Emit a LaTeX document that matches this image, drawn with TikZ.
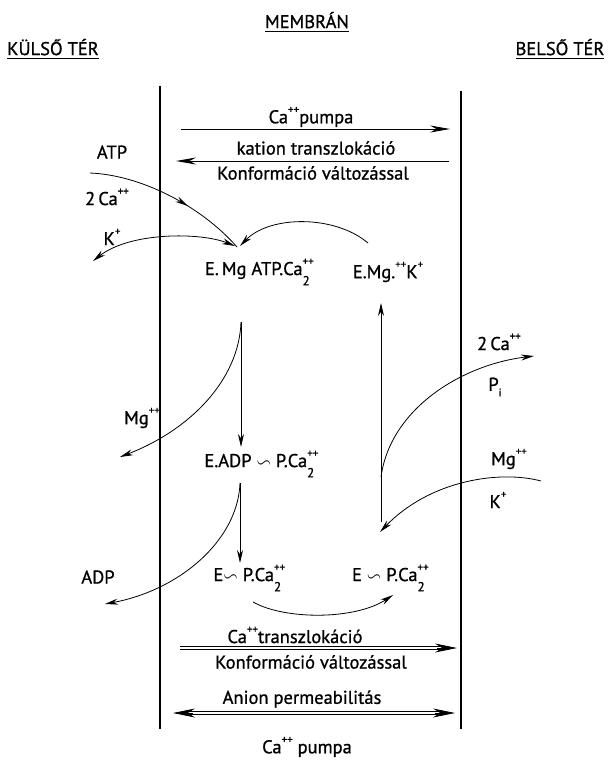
\documentclass[tikz,border=0pt]{standalone}
\usepackage{fontspec}
\usepackage{amssymb}
\setmainfont{PT Sans}[UprightFeatures={FakeBold=0.9}]
\usetikzlibrary{arrows.meta,decorations.markings}

\newcommand{\pp}{\raisebox{0.55em}{\fontsize{11}{11}\selectfont ++}}
\newcommand{\kp}{\raisebox{0.55em}{\fontsize{11}{11}\selectfont +}}
\newcommand{\catwo}{Ca\rlap{\raisebox{0.55em}{\fontsize{11}{11}\selectfont ++}}\raisebox{-0.55em}{\fontsize{13}{13}\selectfont 2}\hphantom{+}}
\newcommand{\wave}{$\backsim$}

\begin{document}
\begin{tikzpicture}[
    x=1pt, y=-1pt,
    lbl/.style={font=\fontsize{18.5}{20}\selectfont, inner sep=1pt},
    title/.style={font=\fontsize{18.5}{20}\selectfont, inner sep=1pt},
    memb/.style={line width=1.6pt},
    flow/.style={line width=0.8pt, -{Stealth[length=13pt,width=6pt]}},
    both flow/.style={line width=0.8pt, {Stealth[length=13pt,width=6pt]}-{Stealth[length=13pt,width=6pt]}},
    mid flow/.style={line width=0.8pt, postaction={decorate}, decoration={markings,
        mark=at position #1 with {\arrow{Stealth[length=13pt,width=6pt]}}}},
    top flow/.style={line width=0.8pt, -{Stealth[length=20pt,width=7pt]}},
    dbl/.style={line width=0.8pt, double distance=2.2pt},
    dbl tip/.style={line width=0.8pt, -{Stealth[length=22pt,width=9pt]}}
]
\useasboundingbox (0,0) rectangle (610,760);

% fejlécek
\node[title] (memtitle) at (307,22) {\underline{MEMBRÁN}};
\node[title] (kulso)    at (53,49)  {\underline{KÜLSŐ TÉR}};
\node[title] (belso)    at (560,49) {\underline{BELSŐ TÉR}};

% a membrán két oldala
\coordinate (ml1) at (160,86);  \coordinate (ml2) at (160,729);
\coordinate (mr1) at (461,91);  \coordinate (mr2) at (461,729);
\draw[memb] (ml1) -- (ml2);
\draw[memb] (mr1) -- (mr2);

% felső nyilak
\node[lbl] (pumpa)  at (311,117) {Ca\pp pumpa};
\node[lbl] (kation) at (316,148) {kation transzlokáció};
\node[lbl] (konf1)  at (313,173) {Konformáció változással};
\coordinate (p1) at (181,129); \coordinate (p2) at (450,129);
\coordinate (k1) at (449,161); \coordinate (k2) at (176,161);
\draw[top flow] (p1) -- (p2);
\draw[top flow, line width=1pt] (k1) -- (k2);

% külső tér ionjai
\node[lbl] (atp)   at (112,152) {ATP};
\node[lbl] (ca2)   at (107,197) {2\,Ca\pp};
\node[lbl] (kout)  at (112,237) {K\kp};
\node[lbl] (mgout) at (142,418) {Mg\pp};
\node[lbl] (adp)   at (98,577)  {ADP};

% belső tér ionjai
\node[lbl] (cain) at (499,342) {2\,Ca\pp};
\node[lbl] (pin)  at (495,387) {P\raisebox{-0.3em}{\fontsize{11}{11}\selectfont i}};
\node[lbl] (mgin) at (509,459) {Mg\pp};
\node[lbl] (kin)  at (498,500) {K\kp};

% enzim állapotok
\node[lbl] (eatp) at (262,272) {E.\,Mg ATP.\catwo};
\node[lbl] (emgk) at (388,272) {E.Mg.\pp K\kp};
\node[lbl] (eadp) at (264,464) {E.ADP \wave{} P.\catwo};
\node[lbl] (ep1)  at (252,578) {E\wave{} P.\catwo};
\node[lbl] (ep2)  at (393,578) {E \wave{} P.\catwo};

% ciklus pontjai
\coordinate (jn)   at (237,247);
\coordinate (atps) at (90,173);
\coordinate (kend) at (93,261);
\coordinate (kst)  at (235,246);
\coordinate (rets) at (368,243);
\coordinate (rete) at (240,246);
\coordinate (d1a) at (241,322);  \coordinate (d1b) at (241,447);
\coordinate (mge) at (120,457);
\coordinate (d2a) at (240,483);  \coordinate (d2b) at (240,563);
\coordinate (adpe) at (105,604);
\coordinate (bc1) at (253,602);  \coordinate (bc2) at (393,595);
\coordinate (up1) at (381,522);  \coordinate (up2) at (381,303);
\coordinate (pis) at (381,477);  \coordinate (pie) at (534,356);
\coordinate (mks) at (541,481);  \coordinate (mke) at (380,532);

% ATP + 2Ca befelé
\draw[mid flow=0.62] (atps) .. controls (140,175) and (200,205) .. (jn);
% K+ ki
\draw[both flow] (kst) .. controls (200,232) and (130,232) .. (kend);
% visszatérés E.Mg.K felől
\draw[flow] (rets) .. controls (335,215) and (270,215) .. (rete);

% lefelé: Mg leadás
\draw[flow] (d1a) -- (d1b);
\draw[flow] (d1a) .. controls (239,380) and (190,430) .. (mge);
% lefelé: ADP leadás
\draw[flow] (d2a) -- (d2b);
\draw[flow] (d2a) .. controls (238,540) and (180,590) .. (adpe);
% alsó átfordulás
\draw[flow] (bc1) .. controls (285,620) and (355,620) .. (bc2);
% felfelé
\draw[flow] (up1) -- (up2);
% Pi és 2Ca a belső térbe
\draw[flow] (pis) .. controls (390,410) and (460,365) .. (pie);
% Mg és K befelé
\draw[flow] (mks) .. controls (500,470) and (430,480) .. (mke);

% alsó kettős nyilak
\node[lbl] (catr)   at (295,635) {Ca\pp transzlokáció};
\node[lbl] (konf2)  at (311,662) {Konformáció változással};
\node[lbl] (anion)  at (302,699) {Anion permeabilitás};
\node[lbl] (pumpa2) at (307,747) {Ca\pp\ pumpa};
\coordinate (t1) at (180,648); \coordinate (t2) at (457,648);
\coordinate (t2b) at (437,648);
\coordinate (a1) at (173,713); \coordinate (a2) at (455,713);
\coordinate (a1b) at (193,713); \coordinate (a2b) at (435,713);
\draw[dbl, shorten >=14pt] (t1) -- (t2);
\draw[dbl tip] (t2b) -- (t2);
\draw[dbl, shorten >=14pt, shorten <=14pt] (a1) -- (a2);
\draw[dbl tip] (a2b) -- (a2);
\draw[dbl tip] (a1b) -- (a1);

\end{tikzpicture}
\end{document}
